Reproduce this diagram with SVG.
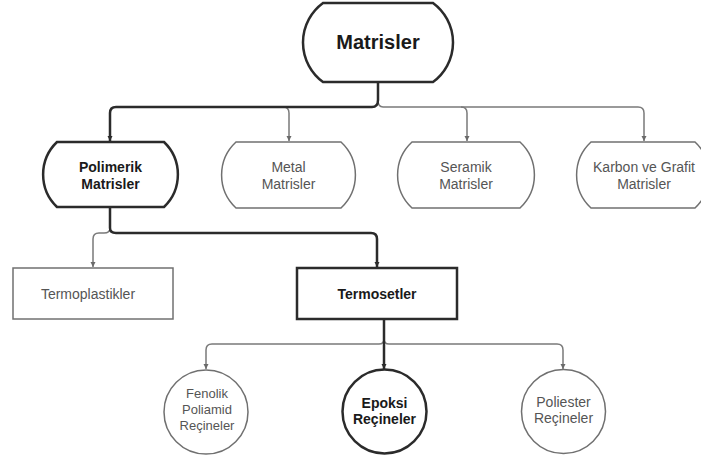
<svg xmlns="http://www.w3.org/2000/svg" width="701" height="460" viewBox="0 0 701 460">
<style>
text{font-family:"Liberation Sans",Arial,sans-serif;text-anchor:middle}
.b{font-weight:bold;fill:#1a1a1a;font-size:14px}
.r{fill:#555;font-size:14px}
.thick{fill:#fff;stroke:#2b2b2b;stroke-width:2.5}
.thin{fill:#fff;stroke:#707070;stroke-width:1.5}
.ct{fill:none;stroke:#2b2b2b;stroke-width:2.5;marker-end:url(#ad)}
.cg{fill:none;stroke:#7a7a7a;stroke-width:1.5;marker-end:url(#ag)}
.cgn{fill:none;stroke:#7a7a7a;stroke-width:1.5}
</style>
<defs>
<marker id="ad" markerUnits="userSpaceOnUse" markerWidth="6" markerHeight="6" refX="5" refY="3" orient="auto"><path d="M0,0.5 L5,3 L0,5.5 Z" fill="#2b2b2b"/></marker>
<marker id="ag" markerUnits="userSpaceOnUse" markerWidth="6" markerHeight="6" refX="5" refY="3" orient="auto"><path d="M0,0.5 L5,3 L0,5.5 Z" fill="#6a6a6a"/></marker>
</defs>
<rect width="701" height="460" fill="#fff"/>
<g id="connectors">
<path class="cg" d="M378,100 Q378,107 383,107 H638 Q644,107 644,113 V141"/>
<path class="cg" d="M283,107 Q289,107 289,113 V141"/>
<path class="cg" d="M461,107 Q467,107 467,113 V141"/>
<path class="ct" d="M378,82 V100 Q378,107 372,107 H116 Q110,107 110,113 V141"/>
<path class="cg" d="M110,228 Q110,233 104,233 H99 Q93,233 93,239 V267"/>
<path class="ct" d="M110,207 V228 Q110,233 116,233 H371 Q377,233 377,239 V267"/>
<path class="cg" d="M384,339 Q384,344 379,344 H212 Q206,344 206,350 V369"/>
<path class="cg" d="M384,339 Q384,344 389,344 H557 Q563,344 563,350 V369"/>
<path class="ct" d="M384,319 V369"/>
</g>
<g id="matrisler">
<path class="thick" d="M323,3 H433 A49,49 0 0 1 433,82 H323 A49,49 0 0 1 323,3 Z"/>
<text x="378" y="49" style="font-weight:bold;font-size:20px;fill:#1a1a1a">Matrisler</text>
</g>
<g id="polimerik">
<path class="thick" d="M57,142 H164 A45,45 0 0 1 164,207 H57 A45,45 0 0 1 57,142 Z"/>
<text class="b" x="110.5" y="172">Polimerik</text>
<text class="b" x="110.5" y="189">Matrisler</text>
</g>
<g id="metal">
<path class="thin" d="M236,142 H341 A45,45 0 0 1 341,208 H236 A45,45 0 0 1 236,142 Z"/>
<text class="r" x="288.5" y="172">Metal</text>
<text class="r" x="288.5" y="189">Matrisler</text>
</g>
<g id="seramik">
<path class="thin" d="M412,142 H520 A45,45 0 0 1 520,208 H412 A45,45 0 0 1 412,142 Z"/>
<text class="r" x="466" y="172">Seramik</text>
<text class="r" x="466" y="189">Matrisler</text>
</g>
<g id="karbon">
<path class="thin" d="M591,142 H695 A45,45 0 0 1 695,208 H591 A45,45 0 0 1 591,142 Z"/>
<text class="r" x="644" y="172">Karbon ve Grafit</text>
<text class="r" x="644" y="189">Matrisler</text>
</g>
<g id="termoplastikler">
<rect class="thin" x="13" y="268" width="160" height="51"/>
<text class="r" x="88" y="299">Termoplastikler</text>
</g>
<g id="termosetler">
<rect class="thick" x="297" y="268" width="160" height="51"/>
<text class="b" x="377" y="299">Termosetler</text>
</g>
<g id="fenolik">
<circle class="thin" cx="206" cy="412" r="42"/>
<text class="r" x="207" y="398" style="font-size:13px">Fenolik</text>
<text class="r" x="207" y="414" style="font-size:13px">Poliamid</text>
<text class="r" x="207" y="430" style="font-size:13px">Reçineler</text>
</g>
<g id="epoksi">
<circle class="thick" cx="384.5" cy="411.5" r="42"/>
<text class="b" x="384.5" y="408">Epoksi</text>
<text class="b" x="384.5" y="424">Reçineler</text>
</g>
<g id="poliester">
<circle class="thin" cx="563.5" cy="411.5" r="42"/>
<text class="r" x="563.5" y="407">Poliester</text>
<text class="r" x="563.5" y="423">Reçineler</text>
</g>
</svg>
